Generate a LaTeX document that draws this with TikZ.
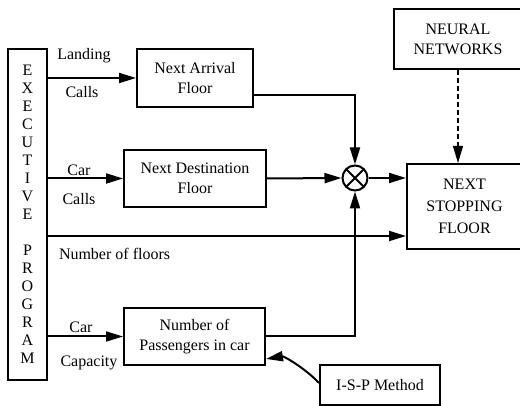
\documentclass[tikz,border=0pt]{standalone}
\usepackage{fontspec}
\setmainfont{Liberation Serif}
\usepackage{tikz}
\usetikzlibrary{arrows.meta, calc}

\begin{document}
\begin{tikzpicture}[x=1pt, y=1pt, >={Triangle[length=17pt, width=10pt]},
  line width=2pt,
  every node/.style={font=\fontsize{16}{20}\selectfont},
  blk/.style={draw, line width=2pt, align=center, inner sep=0pt},
  lbl/.style={inner sep=0pt}]
  \useasboundingbox (0,0) rectangle (520,406);

  % Program column
  \node[blk, minimum width=39pt, minimum height=331pt,
        font=\fontsize{16}{18}\selectfont] (exec) at (27.5,191.5)
    {E\\X\\E\\C\\U\\T\\I\\V\\E\\[18pt]P\\R\\O\\G\\R\\A\\M};

  % Blocks
  \node[blk, minimum width=116pt, minimum height=58pt] (naf) at (195,328) {Next Arrival\\Floor};
  \node[blk, minimum width=142pt, minimum height=57pt] (ndf) at (195,227.5) {Next Destination\\Floor};
  \node[blk, minimum width=141pt, minimum height=57pt] (nop) at (194.5,69.5) {Number of\\Passengers in car};
  \node[blk, minimum width=120pt, minimum height=40pt] (isp) at (380,21) {I-S-P Method};
  \node[blk, minimum width=128pt, minimum height=60pt] (nn) at (458,367) {NEURAL\\NETWORKS};
  \node[blk, minimum width=115pt, minimum height=85pt,
        font=\fontsize{16}{22}\selectfont] (nsf) at (464.5,199.5) {NEXT\\STOPPING\\FLOOR};

  % Multiplier
  \node[draw, circle, line width=2pt, minimum size=25pt, inner sep=0pt,
        path picture={\draw[line width=1.8pt]
          (path picture bounding box.south west) -- (path picture bounding box.north east)
          (path picture bounding box.north west) -- (path picture bounding box.south east);}]
    (mul) at (355,228) {};

  % Inputs
  \draw[->] (exec.east |- naf.west) -- (naf.west);
  \draw[->] (exec.east |- ndf.west) -- (ndf.west);
  \draw[->] (exec.east |- nop.west) -- (nop.west);
  \coordinate (fl) at (47,170);
  \draw[->] (exec.east |- fl) -- (nsf.west |- fl);

  \node[lbl] (landing) at (84,350) {Landing};
  \node[lbl] (calls1) at (82,314) {Calls};
  \node[lbl] (car1) at (79,236) {Car};
  \node[lbl] (calls2) at (79,207) {Calls};
  \node[lbl, anchor=west] (floors) at (58,152) {Number of floors};
  \node[lbl] (car2) at (81,79) {Car};
  \node[lbl] (cap) at (89,43) {Capacity};

  % To multiplier and output
  \draw[->] ($(naf.east)+(0,-17)$) -| (mul.north);
  \draw[->] (ndf.east) -- (mul.west);
  \draw[->] (nop.east) -| (mul.south);
  \draw[->] (mul.east) -- (mul.east -| nsf.west);
  \draw[->, line width=1.2pt, dash pattern=on 5pt off 3pt] (nn.south) -- (nn.south |- nsf.north);

  % Method
  \draw[->] (isp.west |- 0,23) .. controls +(-13,14) and +(18,3) .. (nop.south east |- 0,47);
\end{tikzpicture}
\end{document}
